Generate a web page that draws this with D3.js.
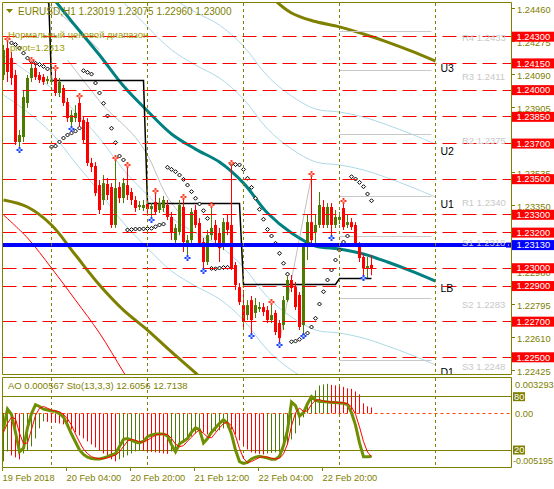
<!DOCTYPE html>
<html><head><meta charset="utf-8">
<script src="https://cdn.jsdelivr.net/npm/d3@7/dist/d3.min.js"></script>
<style>
html,body{margin:0;padding:0;background:#fff;}
svg{display:block;font-family:"Liberation Sans",Arial,sans-serif;}
</style></head>
<body>
<svg id="chart" width="554" height="489"></svg>
<script>
// ---------------- DATA ----------------
const symbolTitle = "EURUSD,H1  1.23019 1.23075 1.22960 1.23000";
const rangeTitle = "Нормальный ценовой диапазон";
const pivotTitle = "pivot=1.2313";
const subTitle = "AO 0.000567  Sto(13,3,3) 12.6056 12.7138";

const open = [1.24085,1.24236,1.24180,1.24085,1.23709,1.23737,1.23928,1.24068,1.24124,1.24085,
1.24074,1.24051,1.24046,1.24068,1.23984,1.24012,1.23933,1.23821,1.23843,1.23928,
1.23832,1.23821,1.23591,1.23574,1.23467,1.23383,1.23473,1.23456,1.23243,1.23456,
1.23394,1.23467,1.23428,1.23383,1.23344,1.23338,1.23361,1.23332,1.23372,1.23327,
1.23338,1.23355,1.23288,1.23158,1.23203,1.23344,1.23142,1.23158,1.23327,1.23254,
1.23147,1.23035,1.23186,1.23243,1.23198,1.23119,1.23259,1.23243,1.23018,1.22894,
1.22793,1.22737,1.22821,1.22749,1.22771,1.22782,1.22765,1.22709,1.22749,1.22692,
1.22681,1.22821,1.22934,1.22894,1.22850,1.22681,1.23119,1.23259,1.23203,1.23243,
1.23344,1.23243,1.23344,1.23243,1.23271,1.23338,1.23243,1.23259,1.23243,1.23130,
1.23063,1.22996,1.23019];
const high = [1.24253,1.24276,1.24214,1.24113,1.23776,1.24001,1.24085,1.24158,1.24147,1.24102,
1.24090,1.24079,1.24074,1.24113,1.24068,1.24029,1.23956,1.23888,1.23916,1.23956,
1.23855,1.23843,1.23619,1.23596,1.23495,1.23523,1.23507,1.23478,1.23608,1.23484,
1.23507,1.23568,1.23450,1.23405,1.23377,1.23383,1.23383,1.23366,1.23422,1.23394,
1.23405,1.23383,1.23316,1.23248,1.23383,1.23389,1.23186,1.23338,1.23355,1.23282,
1.23170,1.23215,1.23344,1.23271,1.23226,1.23282,1.23299,1.23580,1.23035,1.22917,
1.22878,1.22821,1.22844,1.22833,1.22810,1.22805,1.22788,1.22799,1.22765,1.22709,
1.22844,1.22956,1.22962,1.22923,1.22866,1.23142,1.23299,1.23518,1.23299,1.23428,
1.23383,1.23366,1.23366,1.23327,1.23316,1.23366,1.23299,1.23282,1.23259,1.23147,
1.23080,1.23063,1.23075];
const low = [1.24057,1.24046,1.24029,1.23692,1.23681,1.23709,1.23900,1.24046,1.24057,1.24040,
1.24029,1.24034,1.24029,1.23967,1.23961,1.23911,1.23821,1.23799,1.23821,1.23793,
1.23703,1.23574,1.23540,1.23405,1.23304,1.23355,1.23383,1.23226,1.23226,1.23366,
1.23366,1.23383,1.23355,1.23316,1.23327,1.23321,1.23310,1.23288,1.23304,1.23310,
1.23316,1.23271,1.23158,1.23142,1.23186,1.23091,1.23074,1.23142,1.23226,1.23119,
1.23001,1.23018,1.23158,1.23130,1.23035,1.23102,1.23186,1.22990,1.22878,1.22793,
1.22653,1.22709,1.22636,1.22720,1.22754,1.22732,1.22692,1.22692,1.22625,1.22586,
1.22653,1.22810,1.22866,1.22765,1.22653,1.22636,1.23046,1.23130,1.23142,1.23226,
1.23226,1.23226,1.23186,1.23226,1.23248,1.23215,1.23226,1.23215,1.23125,1.23035,
1.22962,1.22945,1.22960];
const close = [1.24225,1.24102,1.24068,1.23709,1.23748,1.23961,1.24068,1.24124,1.24074,1.24057,
1.24046,1.24062,1.24057,1.23984,1.24046,1.23928,1.23843,1.23860,1.23872,1.23821,
1.23720,1.23591,1.23568,1.23422,1.23327,1.23478,1.23411,1.23243,1.23450,1.23394,
1.23478,1.23411,1.23383,1.23338,1.23355,1.23355,1.23332,1.23349,1.23316,1.23366,
1.23383,1.23288,1.23203,1.23226,1.23355,1.23147,1.23158,1.23316,1.23243,1.23142,
1.23035,1.23186,1.23226,1.23158,1.23113,1.23259,1.23215,1.23001,1.22906,1.22810,
1.22698,1.22793,1.22709,1.22793,1.22782,1.22754,1.22709,1.22737,1.22642,1.22608,
1.22821,1.22934,1.22889,1.22782,1.22670,1.23119,1.23259,1.23158,1.23243,1.23355,
1.23243,1.23344,1.23243,1.23288,1.23288,1.23231,1.23259,1.23231,1.23142,1.23057,
1.23001,1.23012,1.23000];

const sar = [null,null,1.24265,1.24256,1.24236,1.24208,1.24180,1.24160,1.24151,1.24144,
1.24133,1.24119,1.23681,1.23686,1.23709,1.23731,1.23748,1.23759,1.23770,1.23787,
1.24109,1.24100,1.24090,1.24040,1.23984,1.23926,1.23855,1.23786,1.23705,1.23630,
1.23608,1.23215,1.23217,1.23220,1.23220,1.23221,1.23223,1.23224,1.23233,1.23243,
1.23248,1.23567,1.23555,1.23542,1.23523,1.23499,1.23467,1.23430,1.23393,1.23361,
1.23323,1.23280,1.22999,1.22997,1.23001,1.23004,1.23005,1.23585,1.23582,1.23580,
1.23555,1.23505,1.23454,1.23393,1.23331,1.23275,1.23218,1.23181,1.23140,1.23084,
1.23028,1.22967,1.22587,1.22591,1.22601,1.22620,1.22636,1.22670,1.22719,1.22799,
1.22868,1.22934,1.22990,1.23046,1.23102,1.23147,1.23181,1.23514,1.23501,1.23482,
1.23458,1.23417,1.23379];

const fractalUpBars = [1,7,13,19,28,31,38,45,52,57,67,77,85];
const fractalDownBars = [4,17,37,46,50,62,69,75,82,90];

const timeTickBars = [0,16,32,48,64,80];
const timeTickLabels = ["19 Feb 2018","20 Feb 04:00","20 Feb 20:00","21 Feb 12:00","22 Feb 04:00","22 Feb 20:00"];
const daySeparatorBars = [12,36,60,84,108];

const priceTicks = [1.22425,1.22610,1.22795,1.22980,1.23350,1.23535,1.23905,1.24090,1.24275,1.24460];
const levelLines = [1.2430,1.2415,1.2400,1.2385,1.2370,1.2350,1.2330,1.2320,1.2300,1.2290,1.2270,1.2250];
const pivotValue = 1.2313;
const pivotNames = ["R4","R3","R2","R1","S1","S2","S3"];
const pivotLevels = [1.2433,1.2411,1.2375,1.2340,1.2318,1.2283,1.2248];
const pivotStartBar = 84, pivotEndBar = 107;

const dayStartBars = [0,12,36,60,84];
const dayRefLevels = [1.24700,1.24053,1.23361,1.22906,1.22945];

const envBars = [0,6,12,18,24,30,36,42,48,54,60,66,72,78,84,90,96,102,108];
const envU3 = [1.26123,1.25943,1.25763,1.25595,1.25432,1.25258,1.25118,1.24989,1.24904,1.24831,1.24713,1.24545,1.24433,1.24385,1.24355,1.24315,1.24270,1.24219,1.24163];
const envU2 = [1.25657,1.25477,1.25297,1.25129,1.24966,1.24792,1.24652,1.24523,1.24438,1.24365,1.24247,1.24079,1.23967,1.23894,1.23877,1.23849,1.23804,1.23753,1.23697];
const envU1 = [1.25360,1.25180,1.25000,1.24832,1.24669,1.24495,1.24355,1.24226,1.24141,1.24068,1.23950,1.23782,1.23670,1.23597,1.23580,1.23552,1.23507,1.23456,1.23400];
const envLB = [1.24888,1.24708,1.24528,1.24360,1.24197,1.24023,1.23883,1.23754,1.23669,1.23596,1.23478,1.23310,1.23198,1.23125,1.23108,1.23080,1.23035,1.22984,1.22928];
const envD1 = [1.24197,1.24102,1.24012,1.23877,1.23731,1.23552,1.23411,1.23282,1.23198,1.23125,1.23007,1.22838,1.22726,1.22653,1.22636,1.22608,1.22563,1.22513,1.22457];
const envD2 = [1.23973,1.23877,1.23759,1.23591,1.23428,1.23254,1.23113,1.22984,1.22900,1.22827,1.22709,1.22541,1.22428,1.22355,1.22339,1.22311,1.22266,1.22215,1.22159];
const envD3 = [1.23383,1.23344,1.23243,1.23074,1.22906,1.22765,1.22653,1.22530,1.22412,1.22288,1.22204,1.22100,1.22000,1.21950,1.21930,1.21910,1.21880,1.21840,1.21800];
const envD4 = [1.23299,1.23170,1.23001,1.22821,1.22636,1.22417,1.22204,1.22100,1.22000,1.21950,1.21900,1.21850,1.21800,1.21760,1.21740,1.21720,1.21700,1.21680,1.21660];
const envLabelNames = ["U3","U2","U1","LB","D1"];

// silver guide lines (bar index, price)
const silverA = [[10,1.24506],[18,1.24354],[24,1.24225]];
const silverB = [[16,1.24169],[24,1.23939],[37,1.23591],[40,1.23439],[45,1.23288]];
const silverC = [[69,1.22586],[77,1.23518]];

const aoValues = [-0.00458,-0.00363,-0.00401,-0.00420,-0.00439,-0.00382,-0.00353,-0.00315,-0.00239,-0.00143,
-0.00076,-0.00081,-0.00086,-0.00091,-0.00096,-0.00105,-0.00124,-0.00153,-0.00181,-0.00210,
-0.00239,-0.00267,-0.00296,-0.00325,-0.00353,-0.00382,-0.00411,-0.00439,-0.00458,-0.00439,
-0.00420,-0.00401,-0.00382,-0.00363,-0.00353,-0.00358,-0.00363,-0.00368,-0.00372,-0.00377,
-0.00382,-0.00387,-0.00363,-0.00334,-0.00306,-0.00277,-0.00248,-0.00220,-0.00191,-0.00162,
-0.00181,-0.00201,-0.00191,-0.00172,-0.00162,-0.00143,-0.00134,-0.00153,-0.00201,-0.00258,
-0.00306,-0.00344,-0.00372,-0.00382,-0.00387,-0.00392,-0.00382,-0.00377,-0.00372,-0.00368,
-0.00344,-0.00296,-0.00248,-0.00191,-0.00115,-0.00038,0.00096,0.00143,0.00220,0.00267,
0.00277,0.00282,0.00272,0.00267,0.00258,0.00253,0.00239,0.00234,0.00210,0.00181,
0.00096,0.00067,0.000567];
const stoK = [44,66,60,40,18,22,45,61,71,69,
66,65,64,63.5,61,57,48,38,29,20,
15,12,10.5,10,10,11,12.5,14.5,16,24,
32,33,31,29,28,30,35,37,38,38,
38,36,26,18,27,30,33,40,45,43,
28,33,40,45,50,54,50,38,20,7,
5,6,10,12,13,12,11,9.5,9.5,13,
25,42,74,70,58,62,72,80,76,74.5,
74.5,74,73.5,73.5,73,72.5,71,62,48,28,
12.5,12.5,12.6056];
const stoD = [40,50,57,55,39,27,28,43,59,67,
69,67,65,64,63,60,55,48,38,29,
21,16,12.5,11,10.2,10.3,11.2,12.7,14.3,18,
24,30,32,31,29.3,29,31,34,36.7,37.7,
38,37.3,33,26.7,23.7,25,30,34.3,39.3,42.7,
38.7,34.7,33.7,39.3,45,49.7,51.3,47.3,36,21.7,
10.7,6,7,9.3,11.7,12.3,12,10.8,10,10.7,
15.8,26.7,47,62,67.3,63.3,64,71.3,76,76.8,
75,74.3,74,73.7,73.3,73,72.2,68.5,60.3,46,
29.5,17.7,12.7138];
const aoMax = 0.003293, aoMin = -0.005195;
const stoLevels = [80, 20];

// ---------------- STYLE ----------------
const OLIVE = "#808000", BULL = "#4d7a00", BEAR = "#ff0000";
const svg = d3.select("#chart");
const crisp = v => Math.floor(v) + 0.5;

const x = d3.scaleLinear().domain([0,108]).range([3.5,435.5]);
const y = d3.scaleLinear().domain([1.2240,1.2449]).range([375.1,2.86]);
const yAo = d3.scaleLinear().domain([aoMin,aoMax]).range([467.8,378.9]);
const ySt = d3.scaleLinear().domain([0,100]).range([467.8,378.9]);

svg.append("rect").attr("width",554).attr("height",489).attr("fill","#fff");
const defs = svg.append("defs");
defs.append("clipPath").attr("id","mainClip").append("rect").attr("x",2.5).attr("y",3).attr("width",509).attr("height",371.5);
defs.append("clipPath").attr("id","subClip").append("rect").attr("x",2.5).attr("y",378).attr("width",509).attr("height",89.5);

const g = svg.append("g").attr("clip-path","url(#mainClip)");

// day separators
daySeparatorBars.forEach(b=>{
  [[3,374.5],[378,467.5]].forEach(([a,bb])=>{
    svg.append("line").attr("x1",crisp(x(b))).attr("x2",crisp(x(b))).attr("y1",a).attr("y2",bb)
      .attr("stroke",OLIVE).attr("stroke-dasharray","3,3");
  });
});

// silver guide lines
const ptLine = d3.line().x(d=>x(d[0])).y(d=>y(d[1])).curve(d3.curveMonotoneX);
[silverA,silverB,silverC].forEach(arr=>{
  g.append("path").attr("d",ptLine(arr)).attr("fill","none").attr("stroke","#c0c0c0").attr("stroke-width",1);
});

// envelope lines
const envLine = d3.line().x((d,i)=>x(envBars[i])).y(d=>y(d)).curve(d3.curveCatmullRom);
const envDefs = [
  [envD4,"#ff0000",1],[envD2,"#add8e6",1],[envD1,"#add8e6",1],[envU1,"#add8e6",1],[envU2,"#add8e6",1],
  [envU3,OLIVE,3],[envD3,OLIVE,3],[envLB,"#008080",3]
];
envDefs.forEach(([arr,c,w])=>{
  g.append("path").attr("d",envLine(arr)).attr("fill","none").attr("stroke",c).attr("stroke-width",w);
});

// pivot gray lines
pivotLevels.forEach(v=>{
  g.append("line").attr("x1",x(pivotStartBar)).attr("x2",x(pivotEndBar)).attr("y1",crisp(y(v))).attr("y2",crisp(y(v)))
    .attr("stroke","#c8c8c8");
});

// black step line (daily reference level)
const stepVals = d3.range(open.length).map(i=>{
  let k = 0; dayStartBars.forEach((s,j)=>{ if(i>=s) k=j; }); return dayRefLevels[k];
});
g.append("path").attr("d",d3.line().x((d,i)=>x(i)).y(d=>crisp(y(d)))(stepVals))
  .attr("fill","none").attr("stroke","#000").attr("stroke-width",1.5);

// SAR dots
sar.forEach((v,i)=>{
  if(v==null) return;
  const cx = x(i), cy = y(v);
  g.append("path").attr("d",`M${cx},${cy-2}L${cx+2},${cy}L${cx},${cy+2}L${cx-2},${cy}Z`)
    .attr("fill","#fff").attr("stroke","#000").attr("stroke-width",1);
});

// candles
open.forEach((o,i)=>{
  const c = close[i], up = c >= o, col = up ? BULL : BEAR;
  const cx = x(i);
  g.append("line").attr("x1",cx).attr("x2",cx).attr("y1",y(high[i])).attr("y2",y(low[i])).attr("stroke",col);
  const top = y(Math.max(o,c)), bot = y(Math.min(o,c));
  g.append("rect").attr("x",cx-1.5).attr("y",top).attr("width",3).attr("height",Math.max(1,bot-top)).attr("fill",col);
});

// horizontal levels
levelLines.forEach(v=>{
  g.append("line").attr("x1",2.5).attr("x2",511.5).attr("y1",crisp(y(v))).attr("y2",crisp(y(v)))
    .attr("stroke","#ff0000").attr("stroke-dasharray","14,6");
});
g.append("line").attr("x1",2.5).attr("x2",511.5).attr("y1",y(pivotValue)).attr("y2",y(pivotValue))
  .attr("stroke","#0000ff").attr("stroke-width",4);

// fractals
function star(cx,cy,c1,c2){
  g.append("path").attr("d",`M${cx-3},${cy}H${cx+3}M${cx},${cy-3}V${cy+3}`).attr("stroke",c1).attr("stroke-width",2);
  g.append("rect").attr("x",cx-1).attr("y",cy-1).attr("width",2).attr("height",2).attr("fill",c2);
}
fractalUpBars.forEach(i=>star(x(i),y(high[i])-2,"#ff4020","#ffb0c0"));
fractalDownBars.forEach(i=>star(x(i),y(low[i])+3,"#2040ff","#a0d0ff"));

// envelope names
[envU3,envU2,envU1,envLB,envD1].forEach((arr,k)=>{
  g.append("text").attr("x",x(108)+5).attr("y",y(arr[arr.length-1])+7).attr("dy","0.35em")
    .attr("font-size",10.5).attr("fill","#000").text(envLabelNames[k]);
});
// pivot labels
pivotLevels.forEach((v,k)=>{
  g.append("text").attr("x",462).attr("y",y(v)+6).attr("dy","0.35em").attr("font-size",9.5)
    .attr("fill","#c8c8c8").text(pivotNames[k]+" "+v.toFixed(4));
});

// titles
svg.append("path").attr("d","M6,9L13,9L9.5,13Z").attr("fill",OLIVE);
svg.append("text").attr("x",18).attr("y",11).attr("dy","0.35em").attr("font-size",10).attr("fill",OLIVE).text(symbolTitle);
svg.append("text").attr("x",8).attr("y",35).attr("dy","0.35em").attr("font-size",9.5).attr("fill","#9a9a00").text(rangeTitle);
svg.append("text").attr("x",10).attr("y",48).attr("dy","0.35em").attr("font-size",9.5).attr("fill","#9a9a00").text(pivotTitle);

// frames
const fr = (x1,y1,x2,y2)=>svg.append("line").attr("x1",x1).attr("y1",y1).attr("x2",x2).attr("y2",y2).attr("stroke",OLIVE);
fr(2.5,2.5,511.5,2.5); fr(2.5,374.5,511.5,374.5); fr(2.5,2.5,2.5,374.5); fr(511.5,2.5,511.5,374.5);
fr(2.5,377.5,511.5,377.5); fr(2.5,467.5,511.5,467.5); fr(2.5,377.5,2.5,467.5); fr(511.5,377.5,511.5,467.5);

// price axis
priceTicks.forEach(t=>{
  const yy = crisp(y(t));
  fr(511.5,yy,515,yy);
  svg.append("text").attr("x",517).attr("y",yy+1).attr("dy","0.35em").attr("font-size",9.3).attr("fill",OLIVE).text(t.toFixed(5));
});
levelLines.forEach(v=>{
  const yy = y(v);
  svg.append("rect").attr("x",512).attr("y",yy-5).attr("width",42).attr("height",10).attr("fill","#ff0000");
  svg.append("text").attr("x",516.5).attr("y",yy).attr("dy","0.35em").attr("font-size",9.3).attr("fill","#fff").text(v.toFixed(5));
});
{
  const yy = y(pivotValue);
  svg.append("rect").attr("x",512).attr("y",yy-5).attr("width",42).attr("height",10).attr("fill","#0000ff");
  svg.append("text").attr("x",516.5).attr("y",yy).attr("dy","0.35em").attr("font-size",9.3).attr("fill","#fff").text(pivotValue.toFixed(5));
  svg.append("rect").attr("x",506).attr("y",yy-2.5).attr("width",5).attr("height",5).attr("fill","#0000ff");
  svg.append("rect").attr("x",508).attr("y",yy-0.5).attr("width",1).attr("height",1).attr("fill","#fff");
}

// ---------------- SUB WINDOW ----------------
const s = svg.append("g").attr("clip-path","url(#subClip)");
stoLevels.forEach(v=>{
  s.append("line").attr("x1",2.5).attr("x2",511.5).attr("y1",crisp(ySt(v))).attr("y2",crisp(ySt(v))).attr("stroke",OLIVE);
});
s.append("line").attr("x1",2.5).attr("x2",511.5).attr("y1",crisp(yAo(0))).attr("y2",crisp(yAo(0)))
  .attr("stroke","#ff4500").attr("stroke-dasharray","3,3");
aoValues.forEach((v,i)=>{
  const up = i===0 ? true : v > aoValues[i-1];
  s.append("line").attr("x1",crisp(x(i))).attr("x2",crisp(x(i))).attr("y1",yAo(0)).attr("y2",yAo(v))
    .attr("stroke", up ? BULL : BEAR);
});
s.append("path").attr("d",d3.line().x((d,i)=>x(i)).y(d=>ySt(d))(stoK)).attr("fill","none").attr("stroke","#6f8f00").attr("stroke-width",3);
s.append("path").attr("d",d3.line().x((d,i)=>x(i)).y(d=>ySt(d))(stoD)).attr("fill","none").attr("stroke","#ff0000").attr("stroke-width",1);

svg.append("text").attr("x",8).attr("y",386).attr("dy","0.35em").attr("font-size",9.5).attr("fill",OLIVE).text(subTitle);

// sub axis labels
svg.append("text").attr("x",515).attr("y",385).attr("dy","0.35em").attr("font-size",9.3).attr("fill",OLIVE).text(aoMax.toFixed(6));
svg.append("text").attr("x",513).attr("y",461).attr("dy","0.35em").attr("font-size",8.9).attr("fill",OLIVE).text(aoMin.toFixed(6));
svg.append("text").attr("x",515).attr("y",yAo(0)).attr("dy","0.35em").attr("font-size",9.3).attr("fill",OLIVE).text("0.00");
stoLevels.forEach(v=>{
  const yy = ySt(v);
  svg.append("rect").attr("x",513).attr("y",yy-4.5).attr("width",12).attr("height",9).attr("fill",OLIVE);
  svg.append("text").attr("x",514).attr("y",yy).attr("dy","0.35em").attr("font-size",9.3).attr("fill","#fff").text(String(v));
});

// time axis
timeTickBars.forEach((b,k)=>{
  const xx = crisp(x(b)-1);
  fr(xx,467.5,xx,471);
  svg.append("text").attr("x",xx).attr("y",478).attr("dy","0.35em").attr("font-size",9.3).attr("fill",OLIVE).text(timeTickLabels[k]);
});
</script>
</body></html>
